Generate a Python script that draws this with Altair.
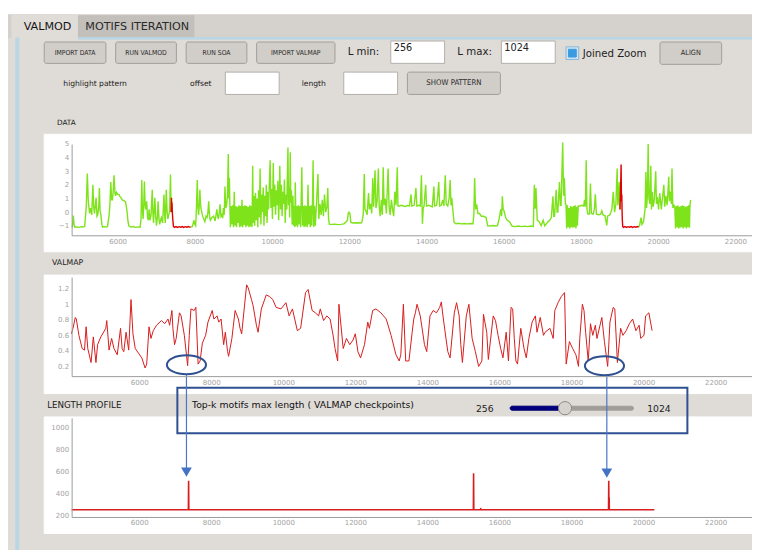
import altair as alt
import pandas as pd

W, H = 744, 542
SX = W / 760.0
SY = H / 558.0


def X(v):
    return round(v * SX, 2)


def Y(v):
    return round(v * SY, 2)


FONT = "DejaVu Sans"
FONT_BTN = "DejaVu Sans Condensed, DejaVu Sans"

# ---------------------------------------------------------------- data values
DATA_GREEN_1 = [
    [4808, -1.1], [4830, -1.05], [4851, -0.25], [4870, -0.9], [4893, -1.1], [4950, -1.08],
    [5010, -1.12], [5070, -1.06], [5120, -1.1], [5147, -1.05], [5189, 0.5], [5214, 2.83],
    [5240, 0.8], [5273, -0.1], [5300, 0.3], [5330, -0.2], [5358, 2.0], [5380, 0.4],
    [5400, -0.1], [5442, 1.05], [5465, -0.3], [5485, -0.2], [5510, 0.4], [5527, 1.76],
    [5545, 0.1], [5569, -0.25], [5590, -0.9], [5611, -1.1], [5650, -1.06], [5700, -1.1],
    [5738, -1.05], [5760, -0.6], [5780, -0.2], [5800, 0.6], [5822, 2.2], [5845, 0.9],
    [5865, 0.9], [5885, 1.5], [5907, 2.7], [5930, 1.4], [5949, 1.2], [5970, 1.45],
    [6000, 1.3], [6034, 1.3], [6055, 1.15], [6076, 1.1], [6100, 1.0], [6118, 0.9],
    [6160, 0.85], [6203, 0.75], [6225, 0.4], [6245, 0.0], [6265, -0.6], [6287, -1.0],
    [6330, -1.1], [6400, -1.06], [6460, -1.12], [6530, -1.08], [6583, -1.1], [6605, -0.5],
    [6625, 2.36], [6640, 0.3], [6659, -0.5], [6675, 0.4], [6693, 2.24], [6710, 0.6],
    [6727, 0.2], [6752, 0.8], [6775, -0.4], [6794, -0.6], [6815, 0.2], [6837, -0.6],
    [6865, -0.2], [6896, 1.64], [6912, 0.0], [6930, -0.8], [6963, 1.05], [6985, -0.3],
    [7006, -1.0], [7028, -0.4], [7048, 0.8], [7070, -0.5], [7090, -0.9], [7110, -0.6],
    [7132, -0.4], [7165, -0.8], [7200, 1.3], [7218, -0.2], [7234, -0.8], [7259, 1.64],
    [7280, 0.1], [7301, -0.5], [7320, -0.2], [7344, 0.0], [7369, 2.76], [7386, 0.0],
]
DATA_RED_1 = [
    [7386, 0.0], [7394, 1.05], [7400, 0.5], [7408, 0.7], [7418, -0.1], [7430, -0.6],
    [7445, -1.05], [7470, -1.12], [7510, -1.06], [7550, -1.12], [7590, -1.07], [7630, -1.11],
    [7670, -1.06], [7710, -1.12], [7750, -1.07], [7790, -1.11], [7830, -1.06], [7870, -1.1],
    [7893, -1.1],
]
DATA_GREEN_2 = [
    [7893, -1.1], [7935, -1.05], [7977, -0.6], [8000, -0.9], [8020, -1.0], [8040, 0.2],
    [8062, 2.36], [8080, 0.4], [8096, -0.2], [8115, 0.5], [8130, 1.64], [8145, 0.6],
    [8163, 0.2], [8189, -0.15], [8210, -0.35], [8231, -0.5], [8260, -0.7], [8290, -0.3],
    [8315, -0.4], [8335, -0.1], [8358, 0.8], [8380, -0.3], [8400, -0.6], [8440, -0.4],
    [8484, -0.3], [8525, -0.65], [8569, 0.2], [8590, -0.3], [8611, -0.5], [8630, -0.1],
    [8653, 0.57], [8675, -0.3], [8696, -0.2], [8720, -0.45], [8738, 0.3], [8760, -0.2],
    [8780, 1.88], [8800, 0.3], [8822, 0.5], [8845, 1.2], [8865, 4.26], [8880, 1.0],
    [8895, 2.5], [8907, 0.4],
    [8920, -1.1], [8940, 0.45], [8960, -0.9], [8980, 0.5], [9000, -1.1], [9020, 1.5],
    [9040, -1.0], [9060, 0.45], [9080, -1.1], [9100, 0.4], [9120, -0.8], [9140, 0.5],
    [9160, -1.1], [9180, 0.45], [9200, -1.05], [9220, 0.9], [9240, -1.1], [9260, 0.45],
    [9280, -0.95], [9300, 0.5], [9320, -1.1], [9340, 0.45], [9360, -1.0], [9380, 0.4],
    [9400, -1.1], [9420, 0.5], [9440, -1.05], [9460, 0.45], [9480, -1.1], [9498, 3.4],
    [9510, -0.8], [9530, 1.2], [9550, -1.0], [9570, 1.4], [9590, -0.6], [9610, 1.0],
    [9630, -1.1], [9650, 1.6], [9670, -0.4], [9690, 3.2], [9710, -0.9], [9730, 1.3],
    [9750, 0.0], [9770, 1.8], [9790, -1.0], [9810, 1.2], [9830, -0.3], [9850, 2.0],
    [9870, -0.8], [9890, 1.5], [9910, 0.2], [9930, 2.2], [9950, 3.8], [9970, 0.3],
    [9990, 1.7], [10010, -0.5], [10030, 3.6], [10050, 0.4], [10070, 2.0], [10090, -0.2],
    [10110, 1.6], [10130, 0.5], [10150, 2.3], [10170, -0.6], [10190, 1.8], [10200, 3.4],
    [10220, 0.2], [10240, 2.0], [10260, -0.3], [10280, 1.5], [10300, 0.6], [10320, 2.4],
    [10340, -0.8], [10360, 1.3], [10380, 0.2], [10395, 2.6], [10411, 4.74], [10425, 0.5],
    [10440, 1.8], [10455, -0.4], [10470, 4.4], [10485, 0.7], [10500, 1.6], [10520, -0.9],
    [10540, 1.2], [10555, -1.0],
    [10570, 0.45], [10590, -1.1], [10600, 2.2], [10620, -1.0], [10640, 0.45], [10660, -1.1],
    [10680, 0.5], [10700, -0.9], [10720, 0.45], [10740, -1.1], [10770, 3.3], [10790, -1.0],
    [10810, 0.45], [10830, -1.1], [10850, 0.5], [10870, -1.05], [10890, 0.45], [10910, -1.1],
    [10930, 2.0], [10950, -0.9], [10970, 0.45], [10990, -1.1], [11010, 0.5], [11030, -1.0],
    [11045, 0.45], [11062, 3.8], [11080, -1.1], [11100, 0.45], [11120, -1.0], [11146, 0.4],
    [11188, 2.8], [11210, -0.5], [11240, 0.6], [11270, -0.2], [11300, 0.9], [11330, -0.3],
    [11357, 1.3], [11390, 0.0], [11420, 0.4], [11442, 1.76], [11462, -0.5], [11484, -0.9],
    [11550, -0.9], [11620, -0.88], [11700, -0.92], [11780, -0.9], [11860, -0.86], [11907, -0.74],
    [11950, -0.6], [11975, -0.05], [11991, 0.0], [12015, -0.1], [12040, -0.75], [12100, -0.8],
    [12200, -0.78], [12300, -0.8], [12329, -0.7], [12360, -0.2], [12388, 2.8], [12405, 0.2],
    [12430, 0.1], [12460, -0.2], [12498, 1.4], [12520, 0.2], [12550, 0.6], [12580, -0.1],
    [12608, 2.5], [12630, 0.4], [12667, 3.07], [12690, 0.3], [12720, 0.8], [12752, 3.2],
    [12775, 0.4], [12800, -0.3], [12830, 0.9], [12855, -0.2], [12878, 3.3], [12900, 0.5],
    [12930, 1.0], [12960, -0.1], [13005, 3.2], [13030, 0.4], [13060, -0.2], [13090, 0.9],
    [13120, 0.2], [13150, -0.3], [13180, 1.5], [13210, 0.5], [13243, 3.3], [13260, 0.45],
    [13300, 0.45], [13350, 0.5], [13400, 0.45], [13450, 0.42], [13500, 0.48], [13560, 0.45],
    [13598, 1.3], [13620, 0.45], [13680, 0.5], [13725, 1.76], [13750, 0.45], [13800, 0.5],
    [13840, 0.45], [13868, 2.7], [13894, -0.86], [13915, 0.3], [13936, 0.45], [13978, 2.0],
    [14000, 0.45], [14060, 0.5], [14100, 0.45], [14150, 0.4], [14190, 1.88], [14210, 0.45],
    [14260, 0.5], [14290, 1.2], [14316, 2.2], [14340, 0.45], [14380, 0.5], [14420, 0.9],
    [14450, 0.45], [14485, 2.7], [14510, 0.6], [14550, 0.45], [14585, 1.0], [14612, 2.36],
    [14635, 0.5], [14654, 1.05], [14680, 0.2], [14713, -0.74], [14760, -0.85], [14823, -0.82],
    [14900, -0.86], [14980, -0.84], [15060, -0.86], [15140, -0.83], [15203, -0.85], [15225, -0.2],
    [15246, 2.5], [15270, 0.2], [15300, 0.57], [15330, -0.1], [15373, -0.1], [15420, -0.3],
    [15470, -0.3], [15542, -0.4], [15584, -1.0], [15650, -1.02], [15720, -0.98], [15790, -1.02],
    [15837, -1.0], [15880, -0.5], [15922, 0.2], [15945, -0.3], [15964, 1.17], [15985, 0.2],
    [16006, 0.1], [16050, -0.4], [16091, -0.6], [16150, -0.7], [16218, -1.05], [16300, -1.06],
    [16380, -1.02], [16460, -1.06], [16540, -1.03], [16620, -1.06], [16700, -1.02], [16767, -1.05],
    [16792, 2.0], [16805, 0.3], [16817, 0.3], [16834, 1.76], [16868, -0.6], [16920, -0.7],
    [16970, -1.0], [17020, -0.6], [17062, -1.0], [17120, -0.8], [17189, -0.6], [17232, -0.4],
    [17274, 1.17], [17295, -0.3], [17316, -0.3], [17358, 1.64], [17380, 0.0], [17401, 0.0],
    [17443, 2.2], [17465, 0.5], [17485, 0.5], [17527, 5.1], [17550, 1.2], [17570, 2.5],
    [17595, 0.6], [17612, 0.57],
    [17630, -1.2], [17650, 0.5], [17670, -1.1], [17690, 0.3], [17710, -1.2], [17730, 0.45],
    [17750, -1.1], [17770, 0.4], [17790, -1.15], [17810, 0.45], [17830, -1.1], [17850, 0.5],
    [17870, -1.2], [17890, 0.4], [17907, -1.0],
    [17930, 0.45], [17980, 0.45], [18030, 0.5], [18070, 0.45], [18093, 0.9], [18115, 0.4],
    [18136, 3.8], [18155, 0.2], [18180, -0.15], [18220, -0.15], [18246, 2.1], [18270, -0.1],
    [18320, -0.15], [18350, 0.3], [18372, 1.3], [18400, -0.15], [18460, -0.2], [18510, -0.15],
    [18541, 0.1], [18570, -0.2], [18620, -0.25], [18668, -0.98], [18690, -0.3], [18750, -0.2],
    [18800, 0.2], [18837, 1.5], [18870, 0.0], [18905, 0.6], [18938, 3.2], [18955, 0.5],
    [18975, 1.0], [18989, 2.2], [19010, 0.2],
]
DATA_RED_2 = [
    [19010, 0.2], [19022, 1.4], [19030, 2.2], [19040, 3.5], [19046, 1.6], [19052, 0.8],
    [19058, 1.3], [19064, 0.2], [19072, -0.6], [19082, -1.05], [19100, -1.12], [19140, -1.06],
    [19180, -1.12], [19220, -1.07], [19260, -1.11], [19300, -1.06], [19340, -1.12], [19380, -1.07],
    [19420, -1.11], [19460, -1.06], [19496, -1.1],
]
DATA_GREEN_3 = [
    [19496, -1.1], [19520, -0.95], [19555, -0.4], [19580, -0.9], [19620, -0.7], [19660, 0.2],
    [19682, 2.95], [19700, 0.3], [19720, 1.2], [19741, 5.0], [19760, 1.0], [19785, 0.6],
    [19809, 3.4], [19825, 0.2], [19850, 1.5], [19870, 0.4], [19900, 0.9], [19936, 3.0],
    [19955, 0.6], [19980, 1.1], [20010, 0.2], [20040, 1.4], [20062, 0.8], [20080, 0.2],
    [20110, 1.0], [20147, 2.0], [20170, 0.4], [20200, 1.2], [20230, 0.5], [20250, 1.3],
    [20274, 2.6], [20290, 0.8], [20320, 1.5], [20340, 0.6], [20358, 3.2], [20380, 0.3],
    [20410, 0.5], [20430, 0.4],
    [20450, -1.2], [20470, 0.45], [20490, -1.1], [20510, 0.5], [20530, -1.2], [20550, 0.4],
    [20570, -1.15], [20590, 0.45], [20610, -1.1], [20630, 0.5], [20650, -1.2], [20670, 0.45],
    [20690, -1.1], [20710, 0.4], [20730, -1.2], [20750, 0.45], [20770, -1.1], [20790, 0.5],
    [20810, -1.15], [20823, 0.45], [20840, 0.9],
]

VALMAP = [
    [4118, 0.62], [4163, 0.69], [4227, 0.83], [4255, 0.81], [4327, 0.60], [4418, 0.43],
    [4482, 0.41], [4527, 0.71], [4573, 0.43], [4664, 0.25], [4727, 0.58], [4800, 0.25],
    [4846, 0.48], [4936, 0.58], [5073, 0.69], [5100, 0.79], [5164, 0.41], [5236, 0.56],
    [5300, 0.43], [5391, 0.35], [5482, 0.69], [5527, 0.43], [5573, 0.39], [5636, 0.64],
    [5709, 0.41], [5773, 1.06], [5827, 0.62], [5891, 0.43], [5982, 0.37], [6073, 0.31],
    [6164, 0.18], [6209, 0.23], [6273, 0.71], [6327, 0.56], [6391, 0.66], [6482, 0.73],
    [6618, 0.79], [6709, 0.75], [6800, 0.81], [6845, 0.73], [6909, 0.92], [6936, 0.69],
    [6982, 0.48], [7027, 0.56], [7118, 0.89], [7164, 0.85], [7254, 0.60], [7345, 0.21],
    [7391, 0.60], [7436, 0.94], [7527, 0.92], [7573, 0.96], [7636, 0.23], [7691, 0.27],
    [7754, 0.50], [7845, 0.60], [7909, 0.77], [8027, 0.92], [8073, 0.81], [8163, 0.85],
    [8209, 0.77], [8273, 0.81], [8345, 0.48], [8391, 0.64], [8454, 0.39], [8482, 0.33],
    [8573, 0.56], [8663, 0.92], [8754, 0.81], [8800, 0.69], [8845, 0.62], [8982, 1.25],
    [9027, 1.21], [9118, 1.06], [9163, 0.98], [9254, 0.73], [9300, 0.64], [9391, 0.94],
    [9527, 1.12], [9618, 1.10], [9709, 1.06], [9800, 0.96], [9936, 0.94], [10072, 1.02],
    [10163, 0.85], [10254, 0.94], [10390, 0.66], [10481, 0.69], [10618, 1.15], [10690, 1.19],
    [10800, 0.92], [10891, 0.89], [10981, 0.85], [11027, 0.94], [11118, 0.79], [11209, 0.85],
    [11300, 0.81], [11390, 0.58], [11436, 0.43], [11509, 0.27], [11545, 1.00], [11663, 0.43],
    [11754, 0.56], [11845, 0.48], [11936, 0.54], [11999, 0.62], [12072, 0.39], [12145, 0.31],
    [12254, 0.48], [12345, 0.77], [12390, 0.69], [12481, 0.92], [12572, 0.94], [12708, 0.89],
    [12857, 0.81], [12992, 0.60], [13127, 0.35], [13217, 0.27], [13262, 0.35], [13334, 1.00],
    [13397, 0.27], [13487, 0.27], [13577, 0.64], [13622, 0.81], [13667, 0.89], [13712, 1.00],
    [13802, 0.85], [13847, 0.71], [13919, 0.48], [13982, 0.39], [14072, 0.85], [14162, 0.92],
    [14252, 0.89], [14342, 0.96], [14387, 1.03], [14432, 0.85], [14522, 0.54], [14567, 0.39],
    [14630, 0.31], [14747, 0.89], [14810, 1.02], [14882, 0.85], [14927, 0.48], [14972, 0.25],
    [15080, 0.85], [15152, 1.00], [15242, 0.56], [15332, 0.39], [15422, 0.20], [15512, 0.27],
    [15557, 0.87], [15647, 0.64], [15692, 0.29], [15827, 0.85], [15890, 0.79], [15962, 0.60],
    [16034, 0.43], [16097, 0.31], [16187, 0.64], [16250, 0.27], [16322, 0.96], [16367, 0.94],
    [16412, 0.56], [16457, 0.27], [16502, 0.23], [16592, 0.69], [16682, 0.43], [16745, 0.31],
    [16817, 0.56], [16907, 0.77], [16997, 0.85], [17042, 0.64], [17132, 0.83], [17222, 0.60],
    [17267, 0.64], [17402, 0.69], [17492, 0.56], [17537, 0.92], [17627, 1.02], [17717, 1.10],
    [17807, 1.15], [17852, 0.23], [17942, 0.52], [18032, 0.43], [18122, 0.35], [18194, 0.20],
    [18230, 0.56], [18302, 1.00], [18347, 0.92], [18392, 0.64], [18464, 0.27], [18527, 0.75],
    [18590, 0.60], [18662, 0.73], [18707, 0.56], [18842, 0.83], [18914, 0.52], [19004, 0.20],
    [19067, 0.77], [19157, 0.96], [19202, 0.94], [19274, 0.25], [19364, 0.69], [19427, 0.60],
    [19517, 0.66], [19607, 0.75], [19697, 0.81], [19787, 0.66], [19877, 0.73], [19922, 0.56],
    [20012, 0.60], [20057, 0.85], [20147, 0.89], [20237, 0.66],
]

LENGTH_PROFILE = [
    [4125, 256], [7362, 256], [7368, 512], [7376, 512], [7382, 256], [15272, 256],
    [15278, 580], [15286, 580], [15292, 256], [15470, 256], [15478, 272], [15488, 256],
    [19024, 256], [19030, 512], [19038, 512], [19042, 360], [19050, 360], [19054, 256],
    [20300, 256],
]

X_TICKS = [6000, 8000, 10000, 12000, 14000, 16000, 18000, 20000, 22000]
DATA_Y_TICKS = [-1, 0, 1, 2, 3, 4, 5]
VALMAP_Y_TICKS = [0.2, 0.4, 0.6, 0.8, 1.0, 1.2]
LP_Y_TICKS = [200, 400, 600, 800, 1000]

# ---------------------------------------------------------------- GUI texts
BUTTONS = ["IMPORT DATA", "RUN VALMOD", "RUN SOA", "IMPORT VALMAP", "ALIGN", "SHOW PATTERN"]
TAB_LABELS = ["VALMOD", "MOTIFS ITERATION"]
FIELD_LABELS = ["L min:", "L max:", "Joined Zoom", "offset", "length"]
FIELD_VALUES = ["256", "1024"]
SECTION_LABELS = ["DATA", "VALMAP", "LENGTH PROFILE"]
SLIDER_TITLE = "Top-k motifs max length ( VALMAP checkpoints)"
SLIDER_RANGE = ["256", "1024"]

# ---------------------------------------------------------------- GUI layout (reference pixels)
BG = "#dfdbd7"
PANEL_RECTS = [
    (0, 0, 760, 558, BG, BG),
    (0, 0, 760, 7, "#ffffff", "#ffffff"),
    (0, 7, 760, 30.5, "#d5d1cd", "#d5d1cd"),
    (4, 7, 72, 32, "#e0dcd8", "#e0dcd8"),
    (72, 8, 190, 30, "#c3bfbb", "#c3bfbb"),
    (72, 30.5, 760, 32, "#b9d6e3", "#b9d6e3"),
    (8, 31, 11, 558, "#b9d6e3", "#b9d6e3"),
    (37, 130, 760, 251, "#ffffff", "#ffffff"),
    (37, 275, 760, 397, "#ffffff", "#ffffff"),
    (37, 421, 760, 541, "#ffffff", "#ffffff"),
    (391, 34, 446, 57, "#ffffff", "#b3afab"),
    (504, 34, 559, 57, "#ffffff", "#b3afab"),
    (222, 66, 277, 89, "#ffffff", "#b3afab"),
    (343, 66, 398, 89, "#ffffff", "#b3afab"),
    (570, 40, 583, 53, "#d3e6f3", "#86b6d8"),
    (572.5, 42.5, 580.5, 50.5, "#3b9be0", "#3b9be0"),
]
BUTTON_BOXES = [
    (37, 35, 100, 57, 7.0), (110, 35, 172, 57, 7.0), (182, 35, 244, 57, 7.0),
    (254, 35, 334, 57, 7.0), (666, 35, 729, 58, 7.5), (408, 66, 503, 89, 8.0),
]
TEXT_LEFT = [
    (TAB_LABELS[0], 16, 19.5, 11.5, "#151515"),
    (TAB_LABELS[1], 79, 19.5, 11.5, "#2a2a2a"),
    (FIELD_LABELS[0], 347, 45.5, 10.5, "#222222"),
    (FIELD_VALUES[0], 394, 41.5, 10, "#222222"),
    (FIELD_LABELS[1], 459, 45.5, 10.5, "#222222"),
    (FIELD_VALUES[1], 507, 41.5, 10, "#222222"),
    (FIELD_LABELS[2], 587, 47.5, 10.5, "#222222"),
    (FIELD_LABELS[3], 186, 78, 7.8, "#222222"),
    (FIELD_LABELS[4], 300, 78, 7.8, "#222222"),
    (SECTION_LABELS[0], 50, 118, 7.5, "#222222"),
    (SECTION_LABELS[1], 45, 263, 8, "#222222"),
    (SECTION_LABELS[2], 40, 408.5, 9, "#222222"),
    (SLIDER_TITLE, 188, 408.5, 9.6, "#111111"),
    (SLIDER_RANGE[0], 478, 412.5, 9.5, "#222222"),
    (SLIDER_RANGE[1], 653, 412.5, 9.5, "#222222"),
]
TEXT_CENTER = [("highlight pattern", 89, 78, 7.8, "#222222")]

ELLIPSES = [(182.3, 367.3), (609.3, 368.3)]
ARROWS = [(182.3, 377.5, 473.5), (611.7, 378.5, 474.5)]
BOX = (173, 391, 694, 437.7)


# ---------------------------------------------------------------- helpers
def px_enc():
    return dict(
        x=alt.X("x:Q", scale=None, axis=None),
        y=alt.Y("y:Q", scale=None, axis=None),
    )


def rect_df(rows):
    return pd.DataFrame(
        [dict(x=X(a), y=Y(b), x2=X(c), y2=Y(d), fill=f, stroke=s) for a, b, c, d, f, s in rows]
    )


def rect_layer(rows, **kw):
    return alt.Chart(rect_df(rows)).mark_rect(strokeWidth=1, **kw).encode(
        x2="x2:Q", y2="y2:Q",
        fill=alt.Fill("fill:N", scale=None),
        stroke=alt.Stroke("stroke:N", scale=None),
        **px_enc(),
    )


def text_layer(rows, align, font):
    df = pd.DataFrame(
        [dict(t=t, x=X(a), y=Y(b), s=round(s * SY, 2), c=c) for t, a, b, s, c in rows]
    )
    return alt.Chart(df).mark_text(align=align, baseline="middle", font=font).encode(
        text="t:N",
        size=alt.Size("s:Q", scale=None),
        color=alt.Color("c:N", scale=None),
        **px_enc(),
    )


def axis(orient, offset, values, fmt):
    return alt.Axis(
        orient=orient, offset=offset, values=values, format=fmt, title="",
        labelFont=FONT, labelFontSize=7, labelColor="#a3a3a3", domainColor="#9c9c9c",
        domainWidth=1, ticks=False, grid=False, labelPadding=3 if orient == "left" else 2,
        zindex=1, labelOverlap=False, labelFlush=False,
    )


def seg_df(parts):
    rows = []
    for name, pts in parts:
        for xv, yv in pts:
            rows.append(dict(x=xv, y=yv, seg=name))
    return pd.DataFrame(rows)


# ---------------------------------------------------------------- GUI layers
panels = rect_layer(PANEL_RECTS)
buttons = rect_layer(
    [(a, b, c, d, "#d1cdc8", "#a29e99") for a, b, c, d, _ in BUTTON_BOXES], cornerRadius=2
)
btn_text = text_layer(
    [(lbl, (a + c) / 2, (b + d) / 2, s, "#2b2b2b") for lbl, (a, b, c, d, s) in zip(BUTTONS, BUTTON_BOXES)],
    "center", FONT_BTN,
)
txt_left = text_layer(TEXT_LEFT, "left", FONT)
txt_center = text_layer(TEXT_CENTER, "center", FONT)

slider = rect_layer(
    [(513, 410, 639, 414, "#a19d99", "#a19d99"), (513, 410, 569, 414, "#00007c", "#00007c")],
    cornerRadius=2,
)
knob = alt.Chart(pd.DataFrame([dict(x=X(569), y=Y(412))])).mark_point(
    shape="circle", filled=True, size=175, fill="#d6d2ce", stroke="#8e8a86",
    strokeWidth=1, opacity=1,
).encode(**px_enc())

# ---------------------------------------------------------------- data panels
green_df = seg_df([("g1", DATA_GREEN_1), ("g2", DATA_GREEN_2), ("g3", DATA_GREEN_3)])
red_df = seg_df([("r1", DATA_RED_1), ("r2", DATA_RED_2)])


def data_scales():
    return (
        alt.Scale(domain=[4808, 22430], range=[X(65), X(760)], nice=False, zero=False),
        alt.Scale(domain=[-1.7, 5.0], range=[Y(234), Y(140)], nice=False, zero=False),
    )


gx, gy = data_scales()
green = alt.Chart(green_df).mark_line(color="#7ee31b", strokeWidth=1.4).encode(
    x=alt.X("x:Q", scale=gx, axis=axis("bottom", Y(234) - H, X_TICKS, "d")),
    y=alt.Y("y:Q", scale=gy, axis=axis("left", -X(65), DATA_Y_TICKS, "d")),
    detail="seg:N",
)
rx, ry = data_scales()
red = alt.Chart(red_df).mark_line(color="#e00000", strokeWidth=1.4).encode(
    x=alt.X("x:Q", scale=rx, axis=None),
    y=alt.Y("y:Q", scale=ry, axis=None),
    detail="seg:N",
)

valmap_df = pd.DataFrame(VALMAP, columns=["x", "y"])
valmap = alt.Chart(valmap_df).mark_line(color="#d81e1e", strokeWidth=1).encode(
    x=alt.X("x:Q", scale=alt.Scale(domain=[4125, 23010], range=[X(65), X(760)], nice=False, zero=False),
            axis=axis("bottom", Y(379) - H, X_TICKS, "d")),
    y=alt.Y("y:Q", scale=alt.Scale(domain=[0.075, 1.35], range=[Y(379), Y(277)], nice=False, zero=False),
            axis=axis("left", -X(65), VALMAP_Y_TICKS, ".1~f")),
)

lp_df = pd.DataFrame(LENGTH_PROFILE, columns=["x", "y"])
lp = alt.Chart(lp_df).mark_line(color="#d81e1e", strokeWidth=1.3).encode(
    x=alt.X("x:Q", scale=alt.Scale(domain=[4125, 23010], range=[X(65), X(760)], nice=False, zero=False),
            axis=axis("bottom", Y(524) - H, X_TICKS, "d")),
    y=alt.Y("y:Q", scale=alt.Scale(domain=[191, 1085], range=[Y(524), Y(422)], nice=False, zero=False),
            axis=axis("left", -X(65), LP_Y_TICKS, "d")),
)

# ---------------------------------------------------------------- annotations
ELLIPSE_PATH = "M -1 0 A 1 0.48 0 1 0 1 0 A 1 0.48 0 1 0 -1 0 Z"
ellipses = alt.Chart(pd.DataFrame([dict(x=X(a), y=Y(b)) for a, b in ELLIPSES])).mark_point(
    shape=ELLIPSE_PATH, size=round(X(40) ** 2), filled=False, strokeWidth=2,
    color="#2e5090", opacity=1,
).encode(**px_enc())

box = alt.Chart(pd.DataFrame([dict(x=X(BOX[0]), y=Y(BOX[1]), x2=X(BOX[2]), y2=Y(BOX[3]))])).mark_rect(
    fillOpacity=0, stroke="#2f5193", strokeWidth=2
).encode(x2="x2:Q", y2="y2:Q", **px_enc())

arrow_lines = alt.Chart(pd.DataFrame([dict(x=X(a), y=Y(b), y2=Y(c)) for a, b, c in ARROWS])).mark_rule(
    color="#4a78c8", strokeWidth=1.2
).encode(y2="y2:Q", **px_enc())

arrow_heads = alt.Chart(pd.DataFrame([dict(x=X(a), y=Y(c + 4.3)) for a, b, c in ARROWS])).mark_point(
    shape="triangle-down", filled=True, size=115, color="#4472c4", opacity=1
).encode(**px_enc())

chart = alt.layer(
    panels, buttons, btn_text, txt_left, txt_center,
    green, red, valmap, lp,
    slider, knob, ellipses, box, arrow_lines, arrow_heads,
).resolve_scale(
    x="independent", y="independent"
).properties(
    width=W, height=H, padding=0,
    autosize=alt.AutoSizeParams(type="none"),
    background=BG,
).configure_view(stroke="transparent")

chart.save("out.html", embed_options={"renderer": "svg", "actions": False})
